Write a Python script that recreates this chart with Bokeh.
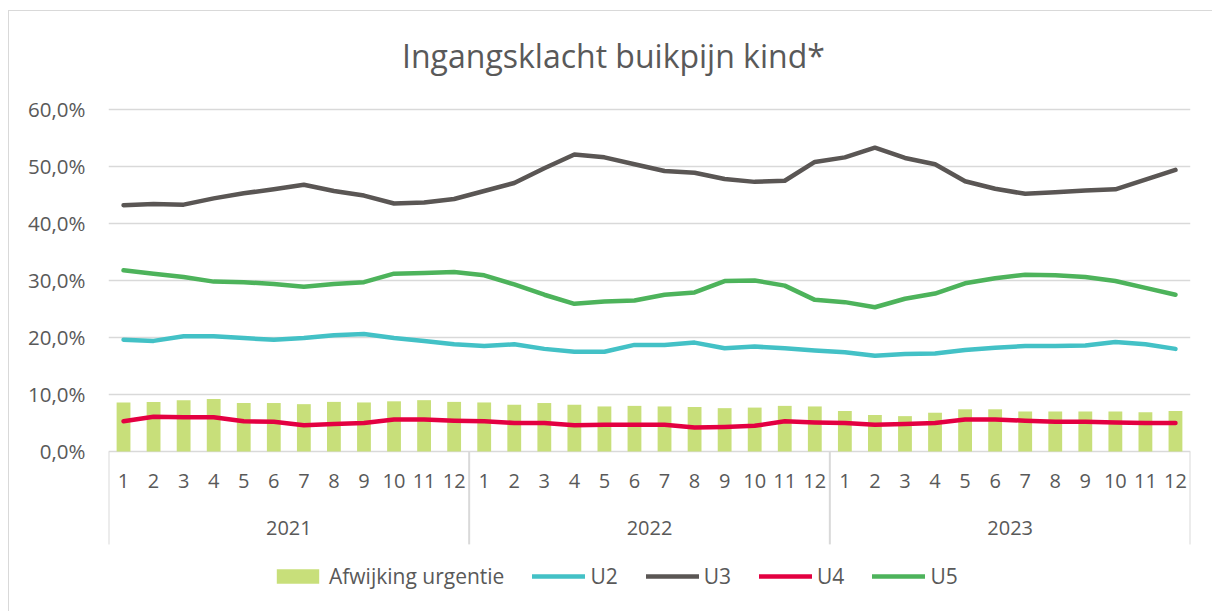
from bokeh.plotting import figure
from bokeh.models import Range1d, FixedTicker, Legend, LegendItem, ColumnDataSource
from bokeh.core.properties import value
from bokeh.embed import file_html
from bokeh.resources import INLINE

# ---------------- data ----------------
years = ["2021", "2022", "2023"]
months = [str(m) for m in range(1, 13)]

afwijking = [8.6, 8.7, 9.0, 9.2, 8.5, 8.5, 8.3, 8.7, 8.6, 8.8, 9.0, 8.7,
             8.6, 8.2, 8.5, 8.2, 7.9, 8.0, 7.9, 7.8, 7.6, 7.7, 8.0, 7.9,
             7.1, 6.4, 6.2, 6.8, 7.4, 7.4, 7.0, 7.0, 7.0, 7.0, 6.9, 7.1]
u2 = [19.6, 19.4, 20.2, 20.2, 19.9, 19.6, 19.9, 20.4, 20.6, 19.9, 19.4, 18.8,
      18.5, 18.8, 18.0, 17.5, 17.5, 18.7, 18.7, 19.1, 18.1, 18.4, 18.1, 17.7,
      17.4, 16.8, 17.1, 17.2, 17.8, 18.2, 18.5, 18.5, 18.6, 19.2, 18.8, 18.0]
u3 = [43.2, 43.4, 43.3, 44.4, 45.3, 46.0, 46.8, 45.7, 44.9, 43.5, 43.7, 44.3,
      45.7, 47.1, 49.7, 52.1, 51.6, 50.4, 49.2, 48.9, 47.8, 47.3, 47.5, 50.8,
      51.6, 53.3, 51.5, 50.4, 47.4, 46.1, 45.2, 45.5, 45.8, 46.0, 47.7, 49.4]
u4 = [5.3, 6.1, 6.0, 6.0, 5.3, 5.2, 4.6, 4.8, 5.0, 5.6, 5.6, 5.4,
      5.3, 5.0, 5.0, 4.6, 4.7, 4.7, 4.7, 4.2, 4.3, 4.5, 5.3, 5.1,
      5.0, 4.7, 4.8, 5.0, 5.6, 5.6, 5.4, 5.2, 5.2, 5.1, 5.0, 5.0]
u5 = [31.8, 31.2, 30.6, 29.8, 29.7, 29.4, 28.9, 29.4, 29.7, 31.2, 31.3, 31.5,
      30.9, 29.3, 27.5, 25.9, 26.3, 26.5, 27.5, 27.9, 29.9, 30.0, 29.1, 26.6,
      26.2, 25.3, 26.8, 27.7, 29.5, 30.4, 31.0, 30.9, 30.6, 29.9, 28.7, 27.5]
y_ticks = [0, 10, 20, 30, 40, 50, 60]
title = "Ingangsklacht buikpijn kind*"
series_names = ["Afwijking urgentie", "U2", "U3", "U4", "U5"]

# ---------------- styling ----------------
FONT = "Open Sans"
TXT = "#595959"
GRID = "#D9D9D9"
C_BAR = "#C8DF7A"
C_U2 = "#43C1C6"
C_U3 = "#5A5654"
C_U4 = "#E30041"
C_U5 = "#4DB35B"

n = len(years) * len(months)
xs = list(range(n))

src = ColumnDataSource(dict(x=xs, afw=afwijking, u2=u2, u3=u3, u4=u4, u5=u5))

p = figure(width=1204, height=601, output_backend="svg", toolbar_location=None,
           x_range=Range1d(-0.5, n - 0.5), y_range=Range1d(-28.25, 77.19),
           min_border_left=99, min_border_right=23, min_border_top=0, min_border_bottom=0)
p.margin = (10, 0, 0, 8)
p.styles = {"border-top": "1px solid #D9D9D9", "border-left": "1px solid #D9D9D9"}
p.outline_line_color = None
p.background_fill_color = "white"
p.border_fill_color = "white"

p.xaxis.visible = False
p.xgrid.visible = False

yax = p.yaxis[0]
yax.ticker = FixedTicker(ticks=y_ticks)
yax.major_label_overrides = {t: f"{t:.1f}%".replace(".", ",") for t in y_ticks}
yax.axis_line_color = None
yax.major_tick_line_color = None
yax.minor_tick_line_color = None
yax.major_label_standoff = 17
yax.major_label_text_font = FONT
yax.major_label_text_font_size = "20.5px"
yax.major_label_text_color = TXT

p.ygrid.ticker = FixedTicker(ticks=y_ticks)
p.ygrid.grid_line_color = GRID
p.ygrid.grid_line_width = 1.3

# bars and lines
r_bar = p.vbar(x="x", top="afw", bottom=0, width=0.46, source=src,
               fill_color=C_BAR, line_color=None)
r_u2 = p.line("x", "u2", source=src, line_color=C_U2, line_width=4.5, line_join="round", line_cap="round")
r_u3 = p.line("x", "u3", source=src, line_color=C_U3, line_width=4.5, line_join="round", line_cap="round")
r_u4 = p.line("x", "u4", source=src, line_color=C_U4, line_width=4.5, line_join="round", line_cap="round")
r_u5 = p.line("x", "u5", source=src, line_color=C_U5, line_width=4.5, line_join="round", line_cap="round")

# hierarchical category axis drawn in the frame below zero
month_labels = months * len(years)
p.text(x=xs, y=[-5.26] * n, text=month_labels, text_align="center", text_baseline="middle",
       text_font=value(FONT), text_font_size="20px", text_color=TXT)
year_x = [i * 12 + 5.5 for i in range(len(years))]
p.text(x=year_x, y=[-13.5] * len(years), text=years, text_align="center", text_baseline="middle",
       text_font=value(FONT), text_font_size="20px", text_color=TXT)
sep_x = [i * 12 - 0.5 for i in range(len(years) + 1)]
p.segment(x0=sep_x, y0=[0] * len(sep_x), x1=sep_x, y1=[-16.3] * len(sep_x),
          line_color=GRID, line_width=2)

# title
p.text(x=[16.30], y=[69.47], text=[title], text_align="center", text_baseline="middle",
       text_font=value(FONT), text_font_size="32px", text_color=TXT)

legend = Legend(items=[LegendItem(label=series_names[0], renderers=[r_bar]),
                       LegendItem(label=series_names[1], renderers=[r_u2]),
                       LegendItem(label=series_names[2], renderers=[r_u3]),
                       LegendItem(label=series_names[3], renderers=[r_u4]),
                       LegendItem(label=series_names[4], renderers=[r_u5])],
                orientation="horizontal", location=(163, 22),
                glyph_width=53, glyph_height=18, label_standoff=5, spacing=28,
                padding=0, margin=0, border_line_color=None, background_fill_alpha=0,
                label_text_font=FONT, label_text_font_size="21px", label_text_color=TXT,
                label_height=24)
p.add_layout(legend)

open("out.html", "w").write(file_html(p, INLINE))
